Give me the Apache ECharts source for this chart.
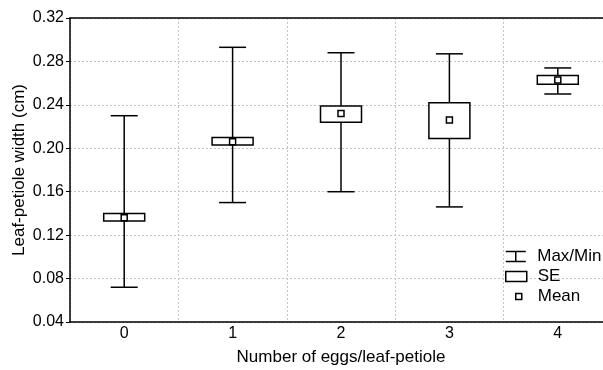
<!DOCTYPE html>
<html>
<head>
<meta charset="utf-8">
<script src="https://cdn.jsdelivr.net/npm/echarts@6/dist/echarts.min.js"></script>
<style>
  html, body { margin: 0; padding: 0; background: #fff; }
  #chart { width: 603px; height: 370px; }
</style>
</head>
<body>
<div id="chart"></div>
<script>
var categories = ['0', '1', '2', '3', '4']
var maxVals = [0.230, 0.293, 0.288, 0.287, 0.274]
var minVals = [0.072, 0.150, 0.160, 0.146, 0.250]
var seHigh = [0.140, 0.210, 0.239, 0.242, 0.267]
var seLow = [0.133, 0.203, 0.224, 0.209, 0.259]
var means = [0.136, 0.206, 0.232, 0.226, 0.263]
var yTicks = [0.04, 0.08, 0.12, 0.16, 0.20, 0.24, 0.28, 0.32]

var font = '"Liberation Sans", Arial, Helvetica, sans-serif'
var capWidth = 27
var boxWidth = 41
var lw = 1.5

var whiskerData = []
var seData = []
var meanData = []
for (var i = 0; i < categories.length; i++) {
  whiskerData.push([i, minVals[i], maxVals[i]])
  seData.push([i, seLow[i], seHigh[i]])
  meanData.push([i, means[i]])
}

function renderWhisker (params, api) {
  var top = api.coord([api.value(0), api.value(2)])
  var bot = api.coord([api.value(0), api.value(1)])
  var x = top[0]
  var st = { stroke: '#000', lineWidth: lw }
  return {
    type: 'group',
    children: [
      { type: 'line', shape: { x1: x, y1: top[1], x2: x, y2: bot[1] }, style: st },
      { type: 'line', shape: { x1: x - capWidth / 2, y1: top[1], x2: x + capWidth / 2, y2: top[1] }, style: st },
      { type: 'line', shape: { x1: x - capWidth / 2, y1: bot[1], x2: x + capWidth / 2, y2: bot[1] }, style: st }
    ]
  }
}

function renderBox (params, api) {
  var top = api.coord([api.value(0), api.value(2)])
  var bot = api.coord([api.value(0), api.value(1)])
  return {
    type: 'rect',
    shape: { x: top[0] - boxWidth / 2, y: top[1], width: boxWidth, height: bot[1] - top[1] },
    style: { fill: '#fff', stroke: '#000', lineWidth: lw }
  }
}

var legendItemStyle = { color: '#fff', borderColor: '#000', borderWidth: lw }
var legendText = { fontFamily: font, fontSize: 17, color: '#000', padding: [0, 0, 0, 6] }

var myChart = echarts.init(document.getElementById('chart'))
var option = {
  animation: false,
  textStyle: { fontFamily: font },
  grid: { left: 70, width: 542, top: 18, bottom: 48, outerBoundsMode: 'none', containLabel: false },
  legend: [
    {
      left: 505, top: 248, padding: 0, itemWidth: 21, itemHeight: 10, selectedMode: false,
      textStyle: legendText,
      data: [{ name: 'Max/Min', icon: 'path://M0,0H20M10,0V10M0,10H20', itemStyle: legendItemStyle }]
    },
    {
      left: 505, top: 268, padding: 0, itemWidth: 21, itemHeight: 10, selectedMode: false,
      textStyle: legendText,
      data: [{ name: 'SE', icon: 'rect', itemStyle: legendItemStyle }]
    },
    {
      left: 515, top: 288, padding: 0, itemWidth: 6, itemHeight: 6, selectedMode: false,
      textStyle: { fontFamily: font, fontSize: 17, color: '#000', padding: [0, 0, 0, 11] },
      data: [{ name: 'Mean', icon: 'rect', itemStyle: legendItemStyle }]
    }
  ],
  xAxis: [
    {
      type: 'category',
      data: categories,
      boundaryGap: true,
      name: 'Number of eggs/leaf-petiole',
      nameLocation: 'middle',
      nameGap: 27,
      nameTextStyle: { fontFamily: font, fontSize: 17, color: '#000' },
      axisLine: { lineStyle: { color: '#000', width: lw } },
      axisTick: { inside: true, length: 4, interval: 0, lineStyle: { color: '#000', width: 1 } },
      axisLabel: { fontFamily: font, fontSize: 16, color: '#000', margin: 4 },
      splitLine: { show: true, interval: 0, lineStyle: { color: '#c4c4c4', width: 1, type: [2, 2] } }
    },
    {
      type: 'category',
      data: categories,
      position: 'top',
      boundaryGap: true,
      axisLine: { lineStyle: { color: '#000', width: lw } },
      axisTick: { inside: true, length: 4, interval: 0, lineStyle: { color: '#000', width: 1 } },
      axisLabel: { show: false },
      splitLine: { show: false }
    }
  ],
  yAxis: {
    type: 'value',
    min: yTicks[0],
    max: yTicks[yTicks.length - 1],
    interval: 0.04,
    name: 'Leaf-petiole width (cm)',
    nameLocation: 'middle',
    nameGap: 42,
    nameMoveOverlap: false,
    nameTextStyle: { fontFamily: font, fontSize: 17, color: '#000' },
    axisLine: { show: true, lineStyle: { color: '#000', width: lw } },
    axisTick: { show: true, length: 4, lineStyle: { color: '#000', width: 1 } },
    axisLabel: {
      fontFamily: font, fontSize: 16, color: '#000', margin: 6,
      formatter: function (v) { return v.toFixed(2) }
    },
    splitLine: { show: true, lineStyle: { color: '#c4c4c4', width: 1, type: [2, 2] } }
  },
  series: [
    {
      name: 'Max/Min',
      type: 'custom',
      renderItem: renderWhisker,
      encode: { x: 0, y: [1, 2] },
      itemStyle: { color: '#000' },
      data: whiskerData,
      z: 2
    },
    {
      name: 'SE',
      type: 'custom',
      renderItem: renderBox,
      encode: { x: 0, y: [1, 2] },
      itemStyle: { color: '#000' },
      data: seData,
      z: 3
    },
    {
      name: 'Mean',
      type: 'scatter',
      symbol: 'rect',
      symbolSize: 6,
      itemStyle: { color: '#fff', borderColor: '#000', borderWidth: lw, opacity: 1 },
      data: meanData,
      z: 4
    }
  ]
}
myChart.setOption(option)
</script>
</body>
</html>
